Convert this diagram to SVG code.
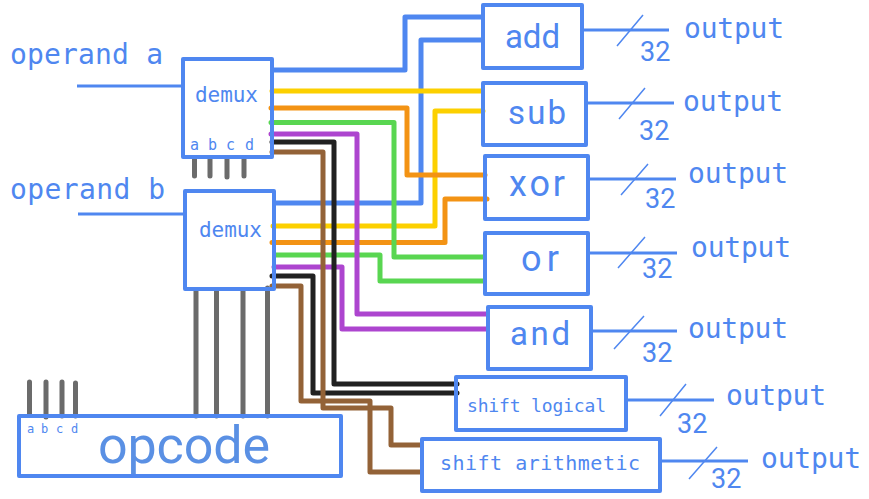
<svg xmlns="http://www.w3.org/2000/svg" width="869" height="499" viewBox="0 0 869 499">
<style>
rect.b{fill:none;stroke:#4f87f0;stroke-width:4;stroke-linejoin:round}
.w{fill:none;stroke-width:5;stroke-linejoin:round;stroke-linecap:round}
.blue{stroke:#4f87f0;stroke-width:5;stroke-linecap:butt}
.y{stroke:#fcd000}.o{stroke:#f39314}.g{stroke:#59d651}.p{stroke:#ad45cf}.k{stroke:#212121}.n{stroke:#936237}
.gr{stroke:#6b6b6b;stroke-width:5;stroke-linecap:round;fill:none}
.l{fill:none;stroke:#4f87f0;stroke-width:3}
.s{fill:none;stroke:#4f87f0;stroke-width:1.5}
text{font-family:"Roboto","Liberation Sans",sans-serif;fill:#4f87f0}
.m{font-family:"DejaVu Sans Mono","Liberation Mono",monospace}
.bx{font-size:33px}
.bl{font-size:36px}
.n32{font-size:27px}
</style>
<g id="connectors">
<path class="l" d="M77 86H183M78 214H185"/>
<path class="w blue" d="M272 70H405V17H482M274 203H421V40H482"/>
<path class="w y" d="M272 91H482M273 226H435V111H483"/>
<path class="w o" d="M271 108H407V175H485M272 242.500H445V199H487"/>
<path class="w g" d="M271 122.500H394V257H484M275 255H380V281H484"/>
<path class="w p" d="M271 134H357V314H487M274 267H342V329H487"/>
<path class="w k" d="M272 142H334V384H457M272 276H313V393H457"/>
<path class="w n" d="M272 152H323V408H391V445H421M272 286H301V401H370V472H421"/>
<path class="gr" d="M194.500 158V176M210 158V176M227 158V177M244 158V176M196 290V416M216.500 290V416M243 290V416M267.500 288V416M29.500 382V415M46 382V417M62 382V416M75.500 383V416"/>
<path class="l" d="M582 30H669M586 103H674M588 179H676M588 253H677M591 331H677M626 400H714M660 461H748"/>
<path class="s" d="M617 46L643 15M619 119L645 88M621 195L648 164M618 268L645 237M614 349L644 316M660 416L686 384M689 479L717 447"/>
</g>
<g id="operand-a"><text class="m" x="10" y="64" font-size="28" textLength="153">operand a</text></g>
<g id="operand-b"><text class="m" x="10" y="199" font-size="28" textLength="155">operand b</text></g>
<g id="demux-1"><rect class="b" x="183" y="59" width="89" height="98"/><text class="m" x="195" y="102" font-size="21" textLength="63">demux</text>
<text class="m" x="190" y="150" font-size="15">a</text><text class="m" x="208" y="150" font-size="15">b</text><text class="m" x="226" y="150" font-size="15">c</text><text class="m" x="245" y="150" font-size="15">d</text></g>
<g id="demux-2"><rect class="b" x="185" y="191" width="89" height="98"/><text class="m" x="199" y="237" font-size="21" textLength="63">demux</text></g>
<g id="opcode"><rect class="b" x="19" y="416" width="322" height="60"/><text x="98" y="463" font-size="52" textLength="172" style="fill:#5a90e4">opcode</text>
<text class="m" x="27" y="433" font-size="12">a</text><text class="m" x="41" y="433" font-size="12">b</text><text class="m" x="56" y="433" font-size="12">c</text><text class="m" x="71" y="433" font-size="12">d</text></g>
<g id="add"><rect class="b" x="483" y="5" width="99" height="63"/><text class="bx" x="505" y="48" textLength="55">add</text></g>
<g id="sub"><rect class="b" x="483" y="83" width="103" height="62"/><text class="bx" x="508" y="124" textLength="58">sub</text></g>
<g id="xor"><rect class="b" x="485" y="156" width="103" height="63"/><text class="bl" x="509" y="196" textLength="56">xor</text></g>
<g id="or"><rect class="b" x="485" y="233" width="103" height="61"/><text class="bl" x="521" y="271" textLength="38">or</text></g>
<g id="and"><rect class="b" x="488" y="307" width="103" height="62"/><text class="bx" x="510" y="345" textLength="60">and</text></g>
<g id="shift-logical"><rect class="b" x="456" y="377" width="170" height="53"/><text class="m" x="467" y="412" font-size="18" textLength="139">shift logical</text></g>
<g id="shift-arithmetic"><rect class="b" x="422" y="439" width="238" height="52"/><text class="m" x="440" y="470" font-size="20" textLength="200">shift arithmetic</text></g>
<g id="out-add"><text class="m" x="684" y="38" font-size="28" textLength="100">output</text><text class="n32" x="640" y="61">32</text></g>
<g id="out-sub"><text class="m" x="683" y="111" font-size="28" textLength="100">output</text><text class="n32" x="639" y="140">32</text></g>
<g id="out-xor"><text class="m" x="688" y="183" font-size="28" textLength="100">output</text><text class="n32" x="645" y="208">32</text></g>
<g id="out-or"><text class="m" x="691" y="257" font-size="28" textLength="100">output</text><text class="n32" x="642" y="278">32</text></g>
<g id="out-and"><text class="m" x="688" y="338" font-size="28" textLength="100">output</text><text class="n32" x="642" y="362">32</text></g>
<g id="out-shift-logical"><text class="m" x="726" y="405" font-size="28" textLength="100">output</text><text class="n32" x="677" y="433">32</text></g>
<g id="out-shift-arithmetic"><text class="m" x="761" y="468" font-size="28" textLength="100">output</text><text class="n32" x="711" y="488">32</text></g>
</svg>
